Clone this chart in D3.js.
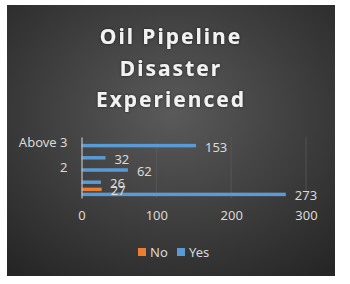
<!DOCTYPE html>
<html>
<head>
<meta charset="utf-8">
<script src="https://cdn.jsdelivr.net/npm/d3@7"></script>
<style>
  body { margin: 0; background: #fff; }
  svg text { font-family: "Noto Sans", "Open Sans", sans-serif; }
</style>
</head>
<body>
<div id="chart"></div>
<script>
// categories listed bottom -> top (bottom one has no visible label)
const categories = ["", "1", "2", "3", "Above 3"];
const seriesNames = ["No", "Yes"];
const noValues = [27, null, null, null, null];
const yesValues = [273, 26, 62, 32, 153];
const xTicks = [0, 100, 200, 300];
const titleLines = ["Oil Pipeline", "Disaster", "Experienced"];
const colors = { No: "#ed7d31", Yes: "#5b9bd5" };

const W = 350, H = 284;
const svg = d3.select("#chart").append("svg")
  .attr("width", W).attr("height", H);

let defs = svg.append("defs");
let grad = defs.append("radialGradient")
  .attr("id", "bg")
  .attr("cx", "50%").attr("cy", "40%").attr("r", "75%");
grad.append("stop").attr("offset", "0%").attr("stop-color", "#5a5a5a");
grad.append("stop").attr("offset", "100%").attr("stop-color", "#262626");

let glow = defs.append("filter").attr("id", "glow")
  .attr("x", "-20%").attr("y", "-40%").attr("width", "140%").attr("height", "180%");
glow.append("feGaussianBlur").attr("in", "SourceAlpha").attr("stdDeviation", 1.5).attr("result", "b");
glow.append("feFlood").attr("flood-color", "#000").attr("flood-opacity", 0.6);
glow.append("feComposite").attr("in2", "b").attr("operator", "in").attr("result", "s");
let m = glow.append("feMerge");
m.append("feMergeNode").attr("in", "s");
m.append("feMergeNode").attr("in", "SourceGraphic");

// chart area
svg.append("rect")
  .attr("x", 7).attr("y", 5)
  .attr("width", 328).attr("height", 271)
  .attr("fill", "url(#bg)");

// title
svg.append("g").selectAll("text")
  .data(titleLines)
  .join("text")
  .attr("x", 171)
  .attr("y", (d, i) => 44 + i * 31.5)
  .attr("text-anchor", "middle")
  .attr("fill", "#f2f2f2")
  .attr("font-size", "21px")
  .attr("font-weight", 700)
  .attr("letter-spacing", "2px")
  .attr("filter", "url(#glow)")
  .text(d => d);

// scales
const x = d3.scaleLinear().domain([0, 300]).range([81.5, 306]);
const y = d3.scaleBand()
  .domain(categories.slice().reverse())
  .range([137, 198]);
const ySub = d3.scaleBand()
  .domain(seriesNames)
  .range([y.bandwidth() / 2 - 5, y.bandwidth() / 2 + 5]);
const barH = 3.5;

// gridlines
svg.append("g").selectAll("line")
  .data(xTicks.filter(t => t > 0))
  .join("line")
  .attr("x1", d => x(d)).attr("x2", d => x(d))
  .attr("y1", 137).attr("y2", 198)
  .attr("stroke", "#595959")
  .attr("stroke-width", 0.8);

// x axis (labels only)
const xAxis = svg.append("g")
  .attr("transform", "translate(0,211)")
  .call(d3.axisBottom(x).tickValues(xTicks).tickSize(0).tickPadding(0));
xAxis.select(".domain").remove();
xAxis.selectAll("text")
  .attr("fill", "#d9d9d9")
  .attr("font-size", "13px")
  .attr("dy", "0.71em");

// bars
const rows = categories.map((c, i) => ({ cat: c, No: noValues[i], Yes: yesValues[i] }));
const barData = [];
rows.forEach(r => seriesNames.forEach(s => {
  if (r[s] != null) barData.push({ cat: r.cat, series: s, value: r[s] });
}));

svg.append("g").selectAll("rect")
  .data(barData)
  .join("rect")
  .attr("x", x(0))
  .attr("y", d => y(d.cat) + ySub(d.series) + (ySub.bandwidth() - barH) / 2)
  .attr("width", d => x(d.value) - x(0))
  .attr("height", barH)
  .attr("fill", d => colors[d.series]);

// data labels
svg.append("g").selectAll("text")
  .data(barData)
  .join("text")
  .attr("x", d => x(d.value) + 9)
  .attr("y", d => y(d.cat) + ySub(d.series) + ySub.bandwidth() / 2 + 1.5)
  .attr("dy", "0.35em")
  .attr("fill", "#d9d9d9")
  .attr("font-size", "13px")
  .text(d => d.value);

// y axis
const yAxis = svg.append("g")
  .attr("transform", `translate(${x(0)},0)`)
  .call(d3.axisLeft(y)
    .tickValues(categories.filter((c, i) => i % 2 === 0))
    .tickSize(0).tickPadding(14));
yAxis.select(".domain").attr("stroke", "#bfbfbf").attr("stroke-width", 1.2);
yAxis.selectAll("text")
  .attr("fill", "#d9d9d9")
  .attr("font-size", "13px");

// legend
const legend = svg.append("g").attr("transform", "translate(138,252)");
const legX = { No: 0, Yes: 39 };
const items = legend.selectAll("g")
  .data(seriesNames)
  .join("g")
  .attr("transform", d => `translate(${legX[d]},0)`);
items.append("rect")
  .attr("x", 0).attr("y", -4)
  .attr("width", 8).attr("height", 8)
  .attr("fill", d => colors[d]);
items.append("text")
  .attr("x", 12)
  .attr("dy", "0.35em")
  .attr("fill", "#d9d9d9")
  .attr("font-size", "13px")
  .text(d => d);
</script>
</body>
</html>
